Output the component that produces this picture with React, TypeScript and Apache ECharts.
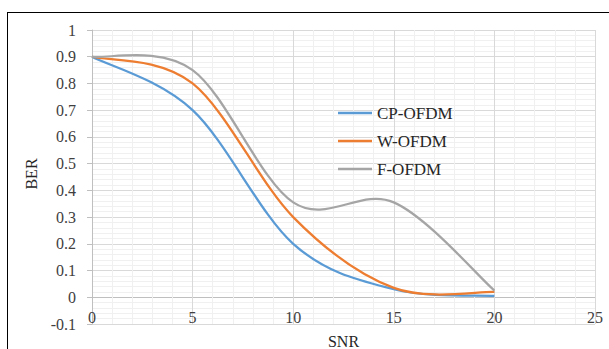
import React, { useEffect, useRef } from "react";
import * as echarts from "echarts";

const snr = [0, 5, 10, 15, 20];
const cpOfdm = [0.9, 0.7, 0.2, 0.03, 0.005];
const wOfdm = [0.9, 0.8, 0.3, 0.035, 0.02];
const fOfdm = [0.9, 0.85, 0.355, 0.355, 0.025];

const seriesNames = ["CP-OFDM", "W-OFDM", "F-OFDM"];
const seriesColors = ["#5B9BD5", "#ED7D31", "#A5A5A5"];
const seriesValues = [cpOfdm, wOfdm, fOfdm];

const FONT = "Liberation Serif";
const GRID = "#d9d9d9";
const ZERO = "#bfbfbf";
// y split lines from -0.1 to 1: the one at 0 (second) is the darker axis line
const ySplitColors = [GRID, ZERO, GRID, GRID, GRID, GRID, GRID, GRID, GRID, GRID, GRID, GRID];

function smoothPath(api: any, xs: number[], ys: number[]): string {
  const pts = xs.map((x, i) => api.coord([x, ys[i]]));
  let d = `M${pts[0][0]},${pts[0][1]}`;
  for (let i = 0; i < pts.length - 1; i++) {
    const p0 = pts[Math.max(i - 1, 0)];
    const p1 = pts[i];
    const p2 = pts[i + 1];
    const p3 = pts[Math.min(i + 2, pts.length - 1)];
    const c1x = p1[0] + (p2[0] - p0[0]) / 6;
    const c1y = p1[1] + (p2[1] - p0[1]) / 6;
    const c2x = p2[0] - (p3[0] - p1[0]) / 6;
    const c2y = p2[1] - (p3[1] - p1[1]) / 6;
    d += ` C${c1x},${c1y} ${c2x},${c2y} ${p2[0]},${p2[1]}`;
  }
  return d;
}

export default function App() {
  const ref = useRef<HTMLDivElement>(null);
  useEffect(() => {
    if (!ref.current) return;
    const chart = echarts.init(ref.current, null, { renderer: "svg" });
    const series = seriesNames.map((name, si) => ({
      name,
      type: "custom",
      itemStyle: { color: seriesColors[si] },
      data: snr.map((x, i) => [x, seriesValues[si][i]]),
      encode: { x: 0, y: 1 },
      renderItem: (params: any, api: any) => {
        if (params.dataIndex !== 0) return null;
        return {
          type: "path",
          shape: { pathData: smoothPath(api, snr, seriesValues[si]) },
          style: { fill: "none", stroke: seriesColors[si], lineWidth: 2.25 },
        };
      },
    }));
    chart.setOption({
      animation: false,
      backgroundColor: "#ffffff",
      grid: { left: 92, right: 14, top: 30, bottom: 25, containLabel: false, outerBoundsMode: "none" },
      graphic: [
        {
          type: "line",
          shape: { x1: 7, y1: 12.5, x2: 609, y2: 12.5 },
          style: { stroke: "#000000", lineWidth: 1 },
          silent: true,
        },
        {
          type: "line",
          shape: { x1: 7.5, y1: 12, x2: 7.5, y2: 349 },
          style: { stroke: "#000000", lineWidth: 1 },
          silent: true,
        },
      ],
      legend: {
        orient: "vertical",
        left: 338,
        top: 104,
        padding: 0,
        itemWidth: 34,
        itemHeight: 2.5,
        itemGap: 10,
        textStyle: { fontFamily: FONT, fontSize: 17, color: "#262626", lineHeight: 18 },
        data: seriesNames.map((n, i) => ({ name: n, icon: "rect", itemStyle: { color: seriesColors[i] } })),
      },
      xAxis: {
        type: "value",
        min: 0,
        max: 25,
        interval: 5,
        name: "SNR",
        nameLocation: "middle",
        nameGap: 9,
        nameTextStyle: { fontFamily: FONT, fontSize: 16, color: "#262626" },
        axisLine: { show: false, onZero: false },
        axisTick: { show: false },
        axisLabel: { inside: true, margin: -1, fontFamily: FONT, fontSize: 16, color: "#404040" },
        splitLine: { show: true, lineStyle: { color: GRID, width: 1 } },
        minorTick: { show: false, splitNumber: 5 },
        minorSplitLine: { show: true, lineStyle: { color: "#f0f0f0", width: 1 } },
      },
      yAxis: {
        type: "value",
        min: -0.1,
        max: 1,
        interval: 0.1,
        name: "BER",
        nameLocation: "middle",
        nameGap: 51,
        nameRotate: 90,
        nameTextStyle: { fontFamily: FONT, fontSize: 16, color: "#262626", padding: [0, 0, 0, 6] },
        axisLine: { show: true, onZero: false, lineStyle: { color: ZERO, width: 1 } },
        axisTick: { show: true, inside: false, length: 5, lineStyle: { color: ZERO } },
        axisLabel: {
          margin: 16,
          fontFamily: FONT,
          fontSize: 16,
          color: "#404040",
          formatter: (v: number) => String(Number(v.toFixed(1))),
        },
        splitLine: { show: true, lineStyle: { color: ySplitColors, width: 1 } },
        minorTick: { show: false, splitNumber: 5 },
        minorSplitLine: { show: true, lineStyle: { color: "#f0f0f0", width: 1 } },
      },
      series,
    });
    return () => chart.dispose();
  }, []);
  return (
    <div
      ref={ref}
      style={{ position: "absolute", left: 0, top: 0, width: 609, height: 349 }}
    />
  );
}
